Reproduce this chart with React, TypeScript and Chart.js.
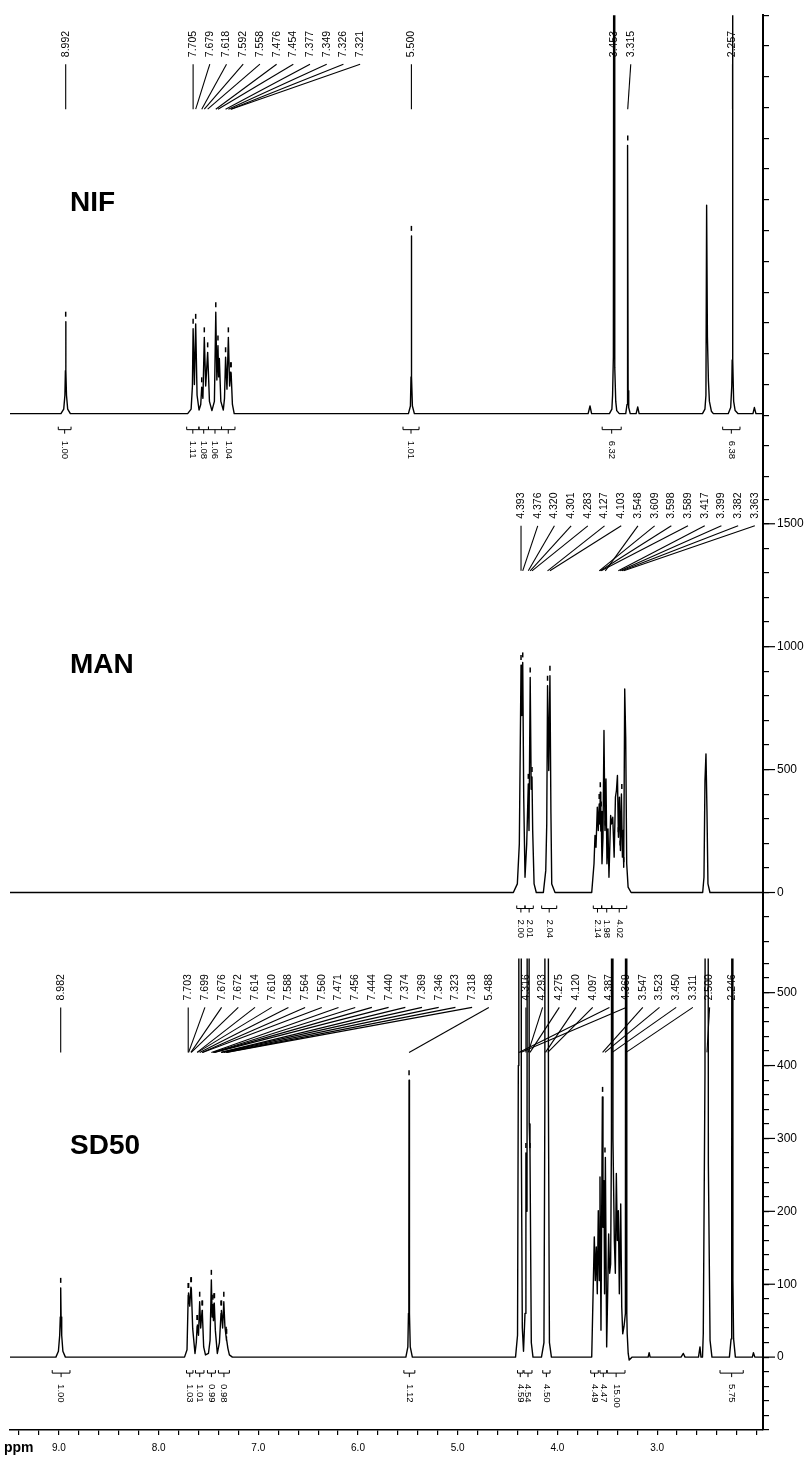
import React, { useEffect, useRef } from 'react';
import { Chart, registerables } from 'chart.js';

Chart.register(...registerables);

type Pt = [number, number];
type Integral = [number, number, string];

const SANS = '"Liberation Sans", Arial, Helvetica, sans-serif';

// ---- axis tick labels ----
const ppmTickLabels = ['9.0', '8.0', '7.0', '6.0', '5.0', '4.0', '3.0'];
const nifTickLabels = ['0', '500', '1000'];
const manTickLabels = ['0', '500', '1000', '1500'];
const sdTickLabels = ['0', '100', '200', '300', '400', '500'];

// ---- spectra traces [ppm, intensity] ----
const nifTrace: Pt[] = [
  [9.56, 0], [9.04, 0], [9.012, 15], [9.0, 60], [8.995, 140], [8.992, 300], [8.989, 140], [8.984, 60], [8.972, 15], [8.945, 0],
  [7.76, 0], [7.725, 15], [7.712, 90], [7.705, 277], [7.692, 95], [7.679, 293], [7.665, 60], [7.645, 12], [7.628, 30], [7.618, 86],
  [7.606, 50], [7.592, 249], [7.578, 90], [7.558, 200], [7.54, 40], [7.515, 10], [7.49, 40], [7.476, 331], [7.465, 110], [7.454, 222],
  [7.447, 120], [7.44, 180], [7.425, 40], [7.4, 12], [7.388, 50], [7.377, 184], [7.363, 80], [7.349, 249], [7.336, 90], [7.326, 135],
  [7.323, 118], [7.321, 133], [7.308, 30], [7.29, 0],
  [5.53, 0], [5.51, 25], [5.504, 120], [5.501, 300], [5.5, 580], [5.499, 300], [5.496, 120], [5.49, 25], [5.47, 0],
  [3.715, 0], [3.696, 25], [3.68, 0],
  [3.5, 0], [3.475, 15], [3.468, 60], [3.46, 185], [3.453, 3000], [3.446, 151], [3.436, 40], [3.426, 10], [3.4, 0],
  [3.335, 0], [3.322, 30], [3.318, 75], [3.315, 875], [3.311, 75], [3.305, 20], [3.29, 0],
  [3.23, 0], [3.214, 22], [3.2, 0],
  [2.56, 0], [2.535, 15], [2.525, 60], [2.518, 680], [2.51, 250], [2.5, 108], [2.49, 40], [2.47, 8], [2.45, 0],
  [2.3, 0], [2.275, 20], [2.264, 90], [2.26, 175], [2.257, 3000], [2.252, 175], [2.245, 40], [2.23, 10], [2.2, 0],
  [2.05, 0], [2.036, 20], [2.02, 0], [1.94, 0],
];

const manTrace: Pt[] = [
  [9.52, 0], [4.47, 0], [4.43, 35], [4.41, 198], [4.393, 925], [4.385, 720], [4.376, 936], [4.366, 388], [4.353, 62], [4.336, 198],
  [4.32, 442], [4.313, 252], [4.301, 875], [4.291, 420], [4.283, 470], [4.276, 250], [4.262, 35], [4.24, 0],
  [4.169, 0], [4.145, 89], [4.135, 279], [4.127, 841], [4.115, 496], [4.103, 882], [4.093, 320], [4.085, 35], [4.052, 0],
  [3.684, 0], [3.661, 117], [3.651, 232], [3.641, 184], [3.628, 347], [3.618, 252], [3.609, 360], [3.603, 279], [3.598, 408],
  [3.593, 250], [3.589, 330], [3.581, 117], [3.571, 225], [3.561, 659], [3.551, 252], [3.541, 462], [3.531, 117], [3.521, 259],
  [3.511, 62], [3.494, 313], [3.486, 279], [3.473, 306], [3.459, 144], [3.446, 388], [3.436, 415], [3.426, 476], [3.416, 225],
  [3.406, 388], [3.396, 171], [3.386, 401], [3.376, 144], [3.369, 252], [3.363, 103], [3.353, 828], [3.343, 631], [3.333, 117],
  [3.319, 22], [3.289, 0],
  [2.571, 0], [2.558, 62], [2.548, 455], [2.538, 564], [2.528, 333], [2.518, 35], [2.498, 0], [1.96, 0],
];

const sdTrace: Pt[] = [
  [9.5, 0], [9.03, 0], [9.005, 8], [8.992, 30], [8.986, 55], [8.982, 95], [8.978, 55], [8.972, 30], [8.96, 8], [8.935, 0],
  [7.74, 0], [7.715, 10], [7.703, 85], [7.701, 78], [7.699, 88], [7.688, 70], [7.676, 96], [7.674, 90], [7.672, 95], [7.658, 39],
  [7.635, 5], [7.622, 20], [7.614, 42], [7.612, 36], [7.61, 44], [7.6, 30], [7.588, 76], [7.578, 40], [7.564, 64], [7.562, 56],
  [7.56, 60], [7.548, 14], [7.53, 3], [7.5, 5], [7.484, 23], [7.471, 106], [7.463, 55], [7.456, 72], [7.45, 50], [7.444, 74],
  [7.442, 68], [7.44, 72], [7.431, 37], [7.411, 5], [7.39, 20], [7.374, 60], [7.371, 54], [7.369, 64], [7.358, 40], [7.346, 76],
  [7.335, 42], [7.323, 28], [7.32, 23], [7.318, 25], [7.305, 12], [7.29, 3], [7.26, 0],
  [5.52, 0], [5.5, 14], [5.494, 60], [5.49, 150], [5.488, 380], [5.486, 150], [5.482, 60], [5.476, 14], [5.455, 0],
  [4.42, 0], [4.4, 30], [4.392, 400], [4.387, 3000], [4.378, 1500], [4.369, 3000], [4.362, 300], [4.352, 40], [4.34, 8],
  [4.325, 60], [4.316, 280], [4.305, 200], [4.293, 3000], [4.283, 320], [4.275, 280], [4.262, 20], [4.245, 0],
  [4.16, 0], [4.135, 20], [4.126, 347], [4.12, 3000], [4.109, 900], [4.097, 3000], [4.09, 347], [4.08, 20], [4.06, 0],
  [3.656, 0], [3.64, 101], [3.63, 165], [3.62, 105], [3.61, 151], [3.6, 87], [3.59, 201], [3.58, 105], [3.573, 247], [3.563, 37],
  [3.549, 357], [3.543, 178], [3.533, 242], [3.527, 87], [3.519, 274], [3.506, 14], [3.496, 87], [3.486, 169], [3.476, 115],
  [3.466, 128], [3.458, 300], [3.45, 3000], [3.443, 300], [3.429, 160], [3.419, 115], [3.409, 252], [3.399, 160], [3.389, 201],
  [3.379, 87], [3.365, 210], [3.355, 69], [3.345, 32], [3.332, 42], [3.318, 60], [3.311, 3000], [3.304, 60], [3.3, 32],
  [3.29, 5], [3.28, -4], [3.25, 0],
  [3.09, 0], [3.08, 6], [3.07, 0], [2.76, 0], [2.737, 5], [2.72, 0], [2.585, 0], [2.57, 14], [2.56, 0],
  [2.545, 0], [2.537, 32], [2.52, 389], [2.5, 3000], [2.486, 265], [2.469, 23], [2.45, 0],
  [2.275, 0], [2.258, 25], [2.252, 105], [2.246, 3000], [2.24, 105], [2.233, 25], [2.215, 0],
  [2.045, 0], [2.034, 6], [2.02, 0], [1.93, 0],
];

// ---- peak labels ----
const nifPeakLabels = ['8.992', '7.705', '7.679', '7.618', '7.592', '7.558', '7.476', '7.454', '7.377', '7.349', '7.326', '7.321', '5.500', '3.453', '3.315', '2.257'];
const manPeakLabels = ['4.393', '4.376', '4.320', '4.301', '4.283', '4.127', '4.103', '3.548', '3.609', '3.598', '3.589', '3.417', '3.399', '3.382', '3.363'];
const sdPeakLabels = ['8.982', '7.703', '7.699', '7.676', '7.672', '7.614', '7.610', '7.588', '7.564', '7.560', '7.471', '7.456', '7.444', '7.440', '7.374', '7.369', '7.346', '7.323', '7.318', '5.488', '4.316', '4.293', '4.275', '4.120', '4.097', '4.387', '4.369', '3.547', '3.523', '3.450', '3.311', '2.500', '2.246'];

// ---- integrals [from ppm, to ppm, value] ----
const nifIntegrals: Integral[] = [
  [9.067, 8.938, '1.00'], [7.77, 7.646, '1.11'], [7.646, 7.55, '1.08'], [7.55, 7.418, '1.06'], [7.418, 7.282, '1.04'],
  [5.585, 5.423, '1.01'], [3.573, 3.381, '6.32'], [2.356, 2.181, '6.38'],
];
const manIntegrals: Integral[] = [
  [4.436, 4.353, '2.00'], [4.353, 4.27, '2.01'], [4.186, 4.035, '2.04'],
  [3.668, 3.584, '2.14'], [3.584, 3.483, '1.98'], [3.483, 3.333, '4.02'],
];
const sdIntegrals: Integral[] = [
  [9.067, 8.889, '1.00'], [7.72, 7.655, '1.03'], [7.63, 7.545, '1.01'], [7.51, 7.43, '0.99'], [7.4, 7.29, '0.98'],
  [5.54, 5.43, '1.12'], [4.4, 4.345, '4.59'], [4.335, 4.255, '4.54'], [4.147, 4.074, '4.50'],
  [3.666, 3.59, '4.49'], [3.573, 3.506, '4.47'], [3.5, 3.322, '15.00'], [2.369, 2.136, '5.75'],
];

const panels = [
  { title: 'NIF', x: 'xNIF', y: 'yNIF', trace: nifTrace, labels: nifPeakLabels, integrals: nifIntegrals },
  { title: 'MAN', x: 'xMAN', y: 'yMAN', trace: manTrace, labels: manPeakLabels, integrals: manIntegrals },
  { title: 'SD50', x: 'x', y: 'ySD', trace: sdTrace, labels: sdPeakLabels, integrals: sdIntegrals },
];

function peakHeight(trace: Pt[], p: number): number | null {
  let best: number | null = null;
  for (const [x, y] of trace) {
    if (Math.abs(x - p) <= 0.005 && (best === null || y > best)) best = y;
  }
  return best;
}

const annotPlugin = {
  id: 'nmrAnnot',
  afterDraw(chart: any) {
    const ctx = chart.ctx as CanvasRenderingContext2D;
    const area = chart.chartArea;
    ctx.save();
    ctx.strokeStyle = '#000';
    ctx.fillStyle = '#000';
    ctx.lineCap = 'butt';
    panels.forEach((pn) => {
      const xs = chart.scales[pn.x];
      const ys = chart.scales[pn.y];
      const top = ys.top;
      const zeroY = ys.getPixelForValue(0);
      // title
      ctx.font = `bold 28px ${SANS}`;
      ctx.textAlign = 'left';
      ctx.textBaseline = 'middle';
      ctx.fillText(pn.title, area.left + 60, top + 188);
      // peak labels with leader lines
      ctx.font = `10.5px ${SANS}`;
      let prev = -Infinity;
      pn.labels.forEach((lab) => {
        const v = parseFloat(lab);
        const px = xs.getPixelForValue(v);
        const lx = Math.max(px, prev + 16.7);
        prev = lx;
        ctx.lineWidth = 1.1;
        ctx.beginPath();
        ctx.moveTo(lx, top + 49);
        ctx.lineTo(px, top + 94);
        ctx.stroke();
        ctx.save();
        ctx.translate(lx, top + 42);
        ctx.rotate(-Math.PI / 2);
        ctx.textAlign = 'left';
        ctx.textBaseline = 'middle';
        ctx.fillText(lab, 0, 0);
        ctx.restore();
        const h = peakHeight(pn.trace, v);
        if (h !== null && h < ys.max * 0.97) {
          const py = ys.getPixelForValue(h);
          ctx.lineWidth = 1.5;
          ctx.beginPath();
          ctx.moveTo(px, py - 10);
          ctx.lineTo(px, py - 5);
          ctx.stroke();
        }
      });
      // integrals
      ctx.font = `9.5px ${SANS}`;
      pn.integrals.forEach(([a, b, t]) => {
        const x1 = xs.getPixelForValue(a);
        const x2 = xs.getPixelForValue(b);
        const by = zeroY + 16;
        const cx = (x1 + x2) / 2;
        ctx.lineWidth = 1;
        ctx.beginPath();
        ctx.moveTo(x1, by - 3);
        ctx.lineTo(x1, by);
        ctx.lineTo(x2, by);
        ctx.lineTo(x2, by - 3);
        ctx.moveTo(cx, by);
        ctx.lineTo(cx, by + 4);
        ctx.stroke();
        ctx.save();
        ctx.translate(cx, zeroY + 27);
        ctx.rotate(Math.PI / 2);
        ctx.textAlign = 'left';
        ctx.textBaseline = 'middle';
        ctx.fillText(t, 0, 0);
        ctx.restore();
      });
    });
    // longer major ticks on the right axes
    ['yNIF', 'yMAN', 'ySD'].forEach((id) => {
      const s = chart.scales[id];
      ctx.lineWidth = 1.2;
      s.ticks.forEach((t: any) => {
        if (t.label) {
          const y = s.getPixelForValue(t.value);
          ctx.beginPath();
          ctx.moveTo(s.left, y);
          ctx.lineTo(s.left + 12, y);
          ctx.stroke();
        }
      });
    });
    // ppm unit
    const xs = chart.scales.x;
    ctx.font = `bold 14px ${SANS}`;
    ctx.textAlign = 'left';
    ctx.textBaseline = 'middle';
    ctx.fillText('ppm', 4, xs.top + 18);
    ctx.restore();
  },
};

function yAxis(labels: string[], step: number, min: number, max: number, weight: number) {
  return {
    type: 'linear',
    axis: 'y',
    position: 'right',
    stack: 'spectra',
    stackWeight: weight,
    min,
    max,
    grid: { drawOnChartArea: false, drawTicks: true, tickLength: 6, color: '#000', lineWidth: 1.2 },
    border: { display: true, color: '#000', width: 2 },
    ticks: {
      stepSize: step,
      autoSkip: false,
      includeBounds: false,
      padding: 8,
      color: '#000',
      font: { family: SANS, size: 12 },
      callback: (v: number) => {
        const r = Math.round(v);
        return Math.abs(v - r) < 1e-6 && labels.includes(String(r)) ? String(r) : '';
      },
    },
    afterFit: (s: any) => {
      s.width = 46;
    },
  };
}

function lineDs(trace: Pt[], xId: string, yId: string) {
  return {
    data: trace.map(([x, y]) => ({ x, y })),
    xAxisID: xId,
    yAxisID: yId,
    borderColor: '#000',
    borderWidth: 1.4,
    borderJoinStyle: 'round',
    pointRadius: 0,
    pointHoverRadius: 0,
    tension: 0,
    fill: false,
  };
}

export default function App() {
  const ref = useRef<HTMLCanvasElement>(null);
  useEffect(() => {
    document.body.style.margin = '0';
    const chart = new Chart(ref.current as HTMLCanvasElement, {
      type: 'line',
      data: {
        datasets: [
          lineDs(nifTrace, 'xNIF', 'yNIF'),
          lineDs(manTrace, 'xMAN', 'yMAN'),
          lineDs(sdTrace, 'x', 'ySD'),
        ] as any,
      },
      options: {
        animation: false,
        responsive: false,
        devicePixelRatio: 1,
        events: [],
        layout: { padding: { left: 10, top: 14, right: 0, bottom: 0 } },
        plugins: { legend: { display: false }, tooltip: { enabled: false } },
        scales: {
          x: {
            type: 'linear',
            axis: 'x',
            position: 'bottom',
            reverse: true,
            min: 1.938,
            max: 9.4905,
            grid: { drawOnChartArea: false, drawTicks: true, tickLength: 5, color: '#000', lineWidth: 1.2 },
            border: { display: true, color: '#000', width: 1.5 },
            ticks: {
              stepSize: 0.2,
              autoSkip: false,
              includeBounds: false,
              maxRotation: 0,
              minRotation: 0,
              padding: 7,
              color: '#000',
              font: { family: SANS, size: 10 },
              callback: (v: number) => {
                const s = Number(v).toFixed(1);
                return Math.abs(v - Math.round(v)) < 1e-6 && ppmTickLabels.includes(s) ? s : '';
              },
            },
            afterFit: (s: any) => {
              s.height = 28;
            },
          },
          xNIF: { type: 'linear', axis: 'x', position: 'bottom', display: false, reverse: true, min: 1.9486, max: 9.5546 },
          xMAN: { type: 'linear', axis: 'x', position: 'bottom', display: false, reverse: true, min: 1.966, max: 9.5186 },
          yNIF: yAxis(nifTickLabels, 100, -206, 1300, 462),
          yMAN: yAxis(manTickLabels, 100, -268, 1691, 482),
          ySD: yAxis(sdTickLabels, 20, -100, 547, 472),
        } as any,
      },
      plugins: [annotPlugin as any],
    });
    return () => chart.destroy();
  }, []);
  return (
    <div style={{ width: 809, height: 1458 }}>
      <canvas ref={ref} width={809} height={1458} style={{ display: 'block', width: '809px', height: '1458px' }} />
    </div>
  );
}
